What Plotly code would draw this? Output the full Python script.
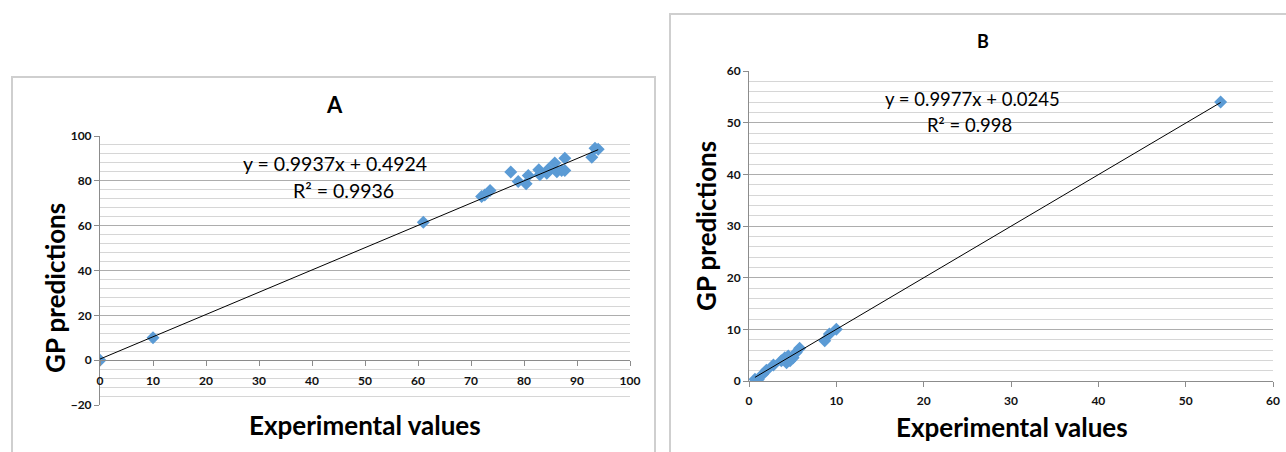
import plotly.graph_objects as go

W, H = 1286, 452

# ---------------- data ----------------
a_exp = [0, 10, 61, 72.0, 72.6, 73.6, 77.5, 78.9, 80.4, 80.8, 82.8, 83.0, 84.3, 84.6,
         85.8, 86.2, 87.1, 87.7, 87.7, 92.8, 93.4, 94.0]
a_gp = [0, 10, 61.5, 73.0, 73.7, 75.7, 83.9, 79.7, 78.7, 82.4, 84.9, 82.7, 83.4, 85.2,
        87.9, 84.1, 84.6, 84.6, 90.1, 90.5, 94.5, 94.1]
a_slope, a_icpt = 0.9937, 0.4924
a_eq = "y = 0.9937x + 0.4924"
a_r2 = "R² = 0.9936"

b_exp = [0.68, 1.06, 1.56, 2.0, 2.8, 3.7, 4.1, 4.5, 4.3, 4.7, 5.05, 5.4, 5.8,
         8.67, 9.2, 10.0, 54.0]
b_gp = [0.33, 0.3, 1.3, 2.1, 3.1, 3.9, 4.5, 4.85, 3.55, 3.9, 4.5, 5.5, 6.35,
        7.8, 9.1, 10.0, 54.0]
b_slope, b_icpt = 0.9977, 0.0245
b_eq = "y = 0.9977x + 0.0245"
b_r2 = "R² = 0.998"

a_xticks = [0, 10, 20, 30, 40, 50, 60, 70, 80, 90, 100]
a_yticks = [-20, 0, 20, 40, 60, 80, 100]
b_xticks = [0, 10, 20, 30, 40, 50, 60]
b_yticks = [0, 10, 20, 30, 40, 50, 60]

# ---------------- helpers ----------------
def px(x):
    return x / W

def py(y):
    return 1 - y / H

FONT = "Lato, 'Open Sans', sans-serif"
BLUE = "#5B9BD5"
MAJ = "#ADADAD"
MIN = "#D6D6D6"
AX = "#8C8C8C"

fig = go.Figure()

# Panel A
fig.add_trace(go.Scatter(x=a_exp, y=a_gp, mode="markers",
                         marker=dict(symbol="diamond", size=10, color=BLUE),
                         xaxis="x", yaxis="y", showlegend=False))
ax0, ax1 = min(a_exp), max(a_exp)
fig.add_trace(go.Scatter(x=[ax0, ax1], y=[a_slope * ax0 + a_icpt, a_slope * ax1 + a_icpt],
                         mode="lines", line=dict(color="black", width=1),
                         xaxis="x", yaxis="y", showlegend=False))

# Panel B
fig.add_trace(go.Scatter(x=b_exp, y=b_gp, mode="markers",
                         marker=dict(symbol="diamond", size=10, color=BLUE),
                         xaxis="x2", yaxis="y2", showlegend=False))
bx0, bx1 = min(b_exp), max(b_exp)
fig.add_trace(go.Scatter(x=[bx0, bx1], y=[b_slope * bx0 + b_icpt, b_slope * bx1 + b_icpt],
                         mode="lines", line=dict(color="black", width=1),
                         xaxis="x2", yaxis="y2", showlegend=False))

tickfont = dict(family=FONT, size=12, color="#111111", weight="bold")

a_ydom = [py(405), py(136)]
a_zero_pos = a_ydom[0] + (a_ydom[1] - a_ydom[0]) * (20 / 120)

fig.update_layout(
    width=W, height=H, autosize=False,
    margin=dict(l=0, r=0, t=0, b=0, pad=0),
    paper_bgcolor="white", plot_bgcolor="white",
    font=dict(family=FONT),
    xaxis=dict(domain=[px(100), px(630)], range=[0, 100], anchor="free", position=a_zero_pos,
               tickvals=a_xticks, showgrid=False, zeroline=False, automargin=False,
               showline=True, linecolor=AX, linewidth=1,
               ticks="outside", ticklen=5, tickcolor=AX, tickfont=tickfont,
               ticklabelstandoff=4),
    yaxis=dict(domain=a_ydom, range=[-20, 100], anchor="x", automargin=False,
               tickvals=a_yticks, showgrid=True, gridcolor=MAJ, gridwidth=1,
               minor=dict(dtick=4, showgrid=True, gridcolor=MIN, gridwidth=1, tick0=0),
               zeroline=False, showline=True, linecolor=AX, linewidth=1,
               ticks="outside", ticklen=5, tickcolor=AX, tickfont=tickfont),
    xaxis2=dict(domain=[px(749), px(1273)], range=[0, 60], anchor="y2", automargin=False,
                tickvals=b_xticks, showgrid=False, zeroline=False,
                showline=True, linecolor=AX, linewidth=1,
                ticks="outside", ticklen=5, tickcolor=AX, tickfont=tickfont,
                ticklabelstandoff=4),
    yaxis2=dict(domain=[py(381), py(71)], range=[0, 60], anchor="x2", automargin=False,
                tickvals=b_yticks, showgrid=True, gridcolor=MAJ, gridwidth=1,
                minor=dict(dtick=2, showgrid=True, gridcolor=MIN, gridwidth=1, tick0=0),
                zeroline=False, showline=True, linecolor=AX, linewidth=1,
                ticks="outside", ticklen=5, tickcolor=AX, tickfont=tickfont),
)

# frames
fig.add_shape(type="rect", xref="paper", yref="paper",
              x0=px(12), x1=px(655), y0=py(470), y1=py(77),
              line=dict(color="#CFCFCF", width=2), layer="below")
fig.add_shape(type="rect", xref="paper", yref="paper",
              x0=px(670), x1=px(1300), y0=py(470), y1=py(14),
              line=dict(color="#CFCFCF", width=2), layer="below")

def ann(x, y, text, size, bold=False, angle=0):
    fig.add_annotation(xref="paper", yref="paper", x=px(x), y=py(y), text=text,
                       showarrow=False, xanchor="center", yanchor="middle",
                       textangle=angle,
                       font=dict(family=FONT, size=size, color="black",
                                 weight="bold" if bold else "normal"))

# Panel A texts
ann(334, 104, "A", 22, bold=True)
ann(335, 163, a_eq, 19.5)
ann(343, 190, a_r2, 19.5)
ann(55, 288, "GP predictions", 26, bold=True, angle=-90)
ann(365, 425, "Experimental values", 26, bold=True)

# Panel B texts
ann(983, 41, "B", 18, bold=True)
ann(973, 99, b_eq, 18.5)
ann(969, 125, b_r2, 18.5)
ann(706, 226, "GP predictions", 26, bold=True, angle=-90)
ann(1012, 427, "Experimental values", 26, bold=True)

fig.write_html("out.html", config={"displayModeBar": False},
               post_script="document.body.style.margin='0';document.body.style.overflow='hidden';")
